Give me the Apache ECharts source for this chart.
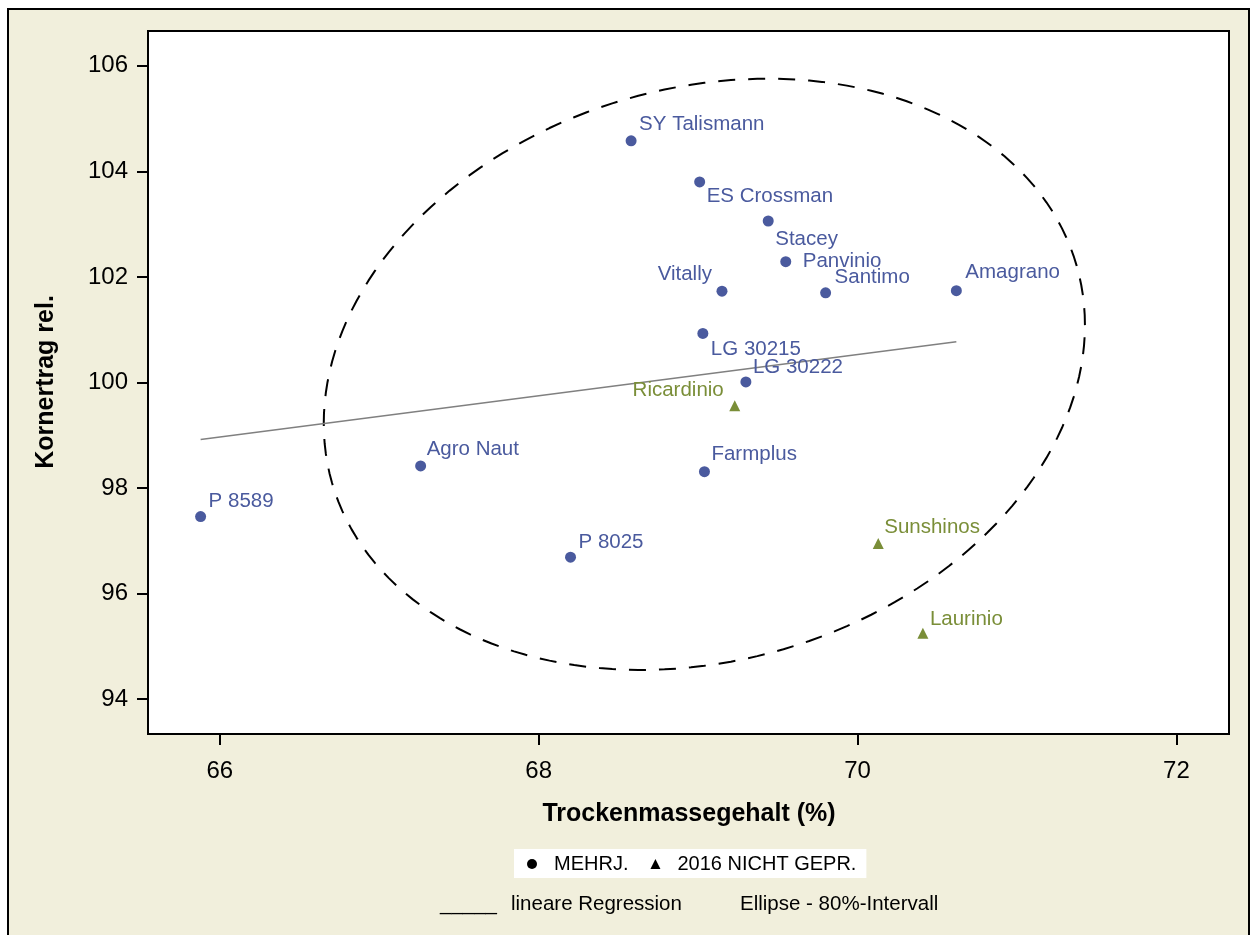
<!DOCTYPE html>
<html>
<head>
<meta charset="utf-8">
<script src="https://cdn.jsdelivr.net/npm/echarts@6/dist/echarts.min.js"></script>
<style>
  html, body { margin: 0; padding: 0; background: #fff; }
  #chart { width: 1252px; height: 935px; }
</style>
</head>
<body>
<div id="chart"></div>
<script>
// Mehrjährig geprüfte Sorten: Trockenmassegehalt (%) und relativer Kornertrag
const mehrjNames = ['SY Talismann', 'ES Crossman', 'Stacey', 'Panvinio', 'Vitally', 'Santimo', 'Amagrano',
                    'LG 30215', 'LG 30222', 'Farmplus', 'Agro Naut', 'P 8589', 'P 8025'];
const mehrjTM = [68.58, 69.01, 69.44, 69.55, 69.15, 69.80, 70.62, 69.03, 69.30, 69.04, 67.26, 65.88, 68.20];
const mehrjKE = [104.58, 103.80, 103.06, 102.29, 101.73, 101.70, 101.74, 100.93, 100.01, 98.31, 98.42, 97.46, 96.69];

// 2016 nicht geprüfte Sorten
const neuNames = ['Ricardinio', 'Sunshinos', 'Laurinio'];
const neuTM = [69.23, 70.13, 70.41];
const neuKE = [99.56, 96.95, 95.25];

// Achsenbeschriftung
const xTicks = [66, 68, 70, 72];
const yTicks = [94, 96, 98, 100, 102, 104, 106];

const FONT = '"Liberation Sans", Arial, Helvetica, sans-serif';
const BLUE = '#4a5a9e';
const GREEN = '#7a8e38';
const FRAME_BG = '#f1efdc';

// Lage der Sortenbeschriftung relativ zum Punkt: [Ausrichtung, dx, dy]
const labelPlacement = {
  'SY Talismann': ['left', 8, -16],
  'ES Crossman': ['left', 7, 14],
  'Stacey': ['left', 7, 18],
  'Panvinio': ['left', 17, 0],
  'Vitally': ['right', -10, -17],
  'Santimo': ['left', 9, -15],
  'Amagrano': ['left', 9, -18],
  'LG 30215': ['left', 8, 16],
  'LG 30222': ['left', 7, -15],
  'Ricardinio': ['right', -11, -15],
  'Farmplus': ['left', 7, -17],
  'Agro Naut': ['left', 6, -17],
  'P 8589': ['left', 8, -15],
  'P 8025': ['left', 8, -15],
  'Sunshinos': ['left', 6, -16],
  'Laurinio': ['left', 7, -14]
};

// Lineare Regression und 80%-Vorhersageellipse über alle Sorten
const allX = mehrjTM.concat(neuTM);
const allY = mehrjKE.concat(neuKE);
const n = allX.length;
const avg = a => a.reduce((s, v) => s + v, 0) / a.length;
const mx = avg(allX), my = avg(allY);
let sxx = 0, syy = 0, sxy = 0;
for (let i = 0; i < n; i++) {
  const dx = allX[i] - mx, dy = allY[i] - my;
  sxx += dx * dx; syy += dy * dy; sxy += dx * dy;
}
sxx /= (n - 1); syy /= (n - 1); sxy /= (n - 1);
const slope = sxy / sxx;
const intercept = my - slope * mx;
const xLo = Math.min(...allX), xHi = Math.max(...allX);
const regLine = [[xLo, intercept + slope * xLo], [xHi, intercept + slope * xHi]];

const alpha = 0.2;
const fQuant = (n - 2) / 2 * (Math.pow(alpha, -2 / (n - 2)) - 1);   // F(2, n-2) Quantil
const scale = Math.sqrt(2 * (n - 1) * (n + 1) / (n * (n - 2)) * fQuant);
const l11 = Math.sqrt(sxx), l21 = sxy / l11, l22 = Math.sqrt(syy - l21 * l21);
const ellipse = [];
for (let deg = 0; deg <= 360; deg += 2) {
  const t = deg * Math.PI / 180, u = Math.cos(t), v = Math.sin(t);
  ellipse.push([mx + scale * l11 * u, my + scale * (l21 * u + l22 * v)]);
}

function pointData(names, xs, ys) {
  return names.map((nm, i) => {
    const p = labelPlacement[nm];
    return { name: nm, value: [xs[i], ys[i]], label: { align: p[0], offset: [p[1], p[2]] } };
  });
}

const axisFont = { color: '#000', fontFamily: FONT, fontSize: 24 };
const titleFont = 'bold 25px ' + FONT;
const noteFont = '20.5px ' + FONT;

const chart = echarts.init(document.getElementById('chart'), null, { renderer: 'canvas' });
chart.setOption({
  animation: false,
  backgroundColor: '#fff',
  grid: {
    left: 148, top: 31, right: 23, bottom: 201,
    show: true, backgroundColor: '#fff', borderColor: '#000', borderWidth: 2
  },
  xAxis: {
    type: 'value', min: 65.55, max: 72.33,
    axisLine: { show: true, onZero: false, lineStyle: { color: '#000', width: 2 } },
    axisTick: { show: true, customValues: xTicks, length: 11, lineStyle: { color: '#000', width: 2 } },
    axisLabel: Object.assign({ customValues: xTicks, margin: 25 }, axisFont),
    splitLine: { show: false }
  },
  yAxis: {
    type: 'value', min: 93.34, max: 106.66,
    axisLine: { show: true, onZero: false, lineStyle: { color: '#000', width: 2 } },
    axisTick: { show: true, customValues: yTicks, length: 11, lineStyle: { color: '#000', width: 2 } },
    axisLabel: Object.assign({ customValues: yTicks, margin: 20 }, axisFont),
    splitLine: { show: false }
  },
  legend: {
    data: [
      { name: 'MEHRJ.', icon: 'circle', itemStyle: { color: '#000', opacity: 1 } },
      { name: '2016 NICHT GEPR.', icon: 'triangle', itemStyle: { color: '#000', opacity: 1 } }
    ],
    left: 514, top: 849,
    backgroundColor: '#fff',
    padding: [5, 10, 4, 13],
    itemWidth: 10, itemHeight: 10, itemGap: 22,
    selectedMode: false,
    formatter: name => '{t|' + name + '}',
    textStyle: {
      color: '#000', fontFamily: FONT, fontSize: 20,
      rich: { t: { color: '#000', fontFamily: FONT, fontSize: 20, padding: [0, 0, 0, 12] } }
    }
  },
  graphic: [
    {
      type: 'rect', z: -100, silent: true,
      shape: { x: 8, y: 9, width: 1241, height: 940 },
      style: { fill: FRAME_BG, stroke: '#000', lineWidth: 2 }
    },
    {
      type: 'text', x: 689, y: 814, silent: true,
      style: { text: 'Trockenmassegehalt (%)', align: 'center', verticalAlign: 'middle',
               font: titleFont, fill: '#000' }
    },
    {
      type: 'text', x: 46, y: 382, rotation: Math.PI / 2, silent: true,
      style: { text: 'Kornertrag rel.', align: 'center', verticalAlign: 'middle',
               font: titleFont, fill: '#000' }
    },
    {
      type: 'text', x: 440, y: 904, silent: true,
      style: { text: '_____', align: 'left', verticalAlign: 'middle', font: noteFont, fill: '#000' }
    },
    {
      type: 'text', x: 511, y: 904, silent: true,
      style: { text: 'lineare Regression', align: 'left', verticalAlign: 'middle', font: noteFont, fill: '#000' }
    },
    {
      type: 'text', x: 740, y: 904, silent: true,
      style: { text: 'Ellipse - 80%-Intervall', align: 'left', verticalAlign: 'middle', font: noteFont, fill: '#000' }
    }
  ],
  series: [
    {
      name: 'Ellipse - 80%-Intervall', type: 'line', data: ellipse,
      showSymbol: false, silent: true, z: 2,
      lineStyle: { color: '#000', width: 2, type: [17, 13] }
    },
    {
      name: 'lineare Regression', type: 'line', data: regLine,
      showSymbol: false, silent: true, z: 3,
      lineStyle: { color: '#808080', width: 1.6 }
    },
    {
      name: 'MEHRJ.', type: 'scatter', symbol: 'circle', symbolSize: 11, z: 5,
      itemStyle: { color: BLUE, opacity: 1 },
      label: { show: true, position: 'inside', verticalAlign: 'middle', formatter: '{b}',
               color: BLUE, opacity: 1, fontFamily: FONT, fontSize: 20.5 },
      data: pointData(mehrjNames, mehrjTM, mehrjKE)
    },
    {
      name: '2016 NICHT GEPR.', type: 'scatter', symbol: 'triangle', symbolSize: 11, z: 5,
      itemStyle: { color: GREEN, opacity: 1 },
      label: { show: true, position: 'inside', verticalAlign: 'middle', formatter: '{b}',
               color: GREEN, opacity: 1, fontFamily: FONT, fontSize: 20.5 },
      data: pointData(neuNames, neuTM, neuKE)
    }
  ]
});
</script>
</body>
</html>
